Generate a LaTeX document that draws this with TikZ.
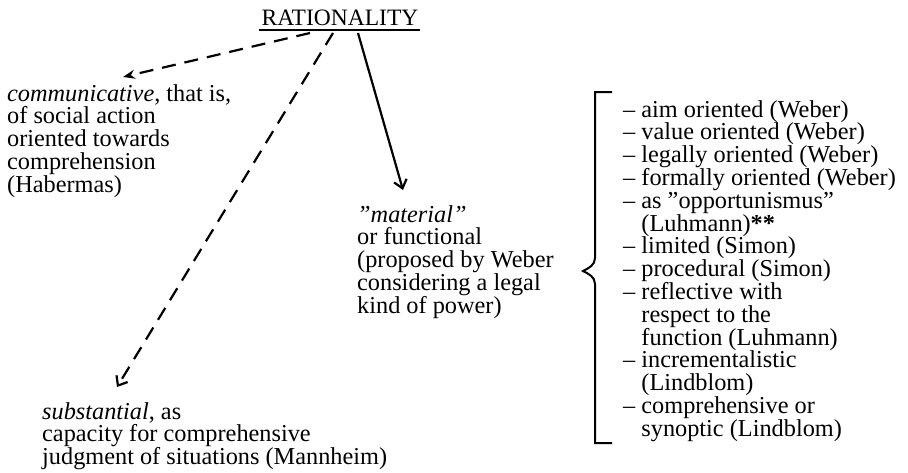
\documentclass[tikz,border=0pt]{standalone}
\usepackage{fontspec}
\setmainfont{Liberation Serif}
\usetikzlibrary{arrows.meta}
\begin{document}
\begin{tikzpicture}[x=1pt,y=-1pt,
  txt/.style={inner sep=0pt,align=left,anchor=base west,font=\fontsize{24.3}{22.8}\selectfont},
  conn/.style={line width=2.2pt},
  dashconn/.style={conn,dash pattern=on 14pt off 9pt},
  barb/.style={-{Straight Barb[length=8pt,width=13pt,line width=2.2pt]}},
  stealthtip/.style={-{Stealth[length=12pt,width=9pt]}}]
\useasboundingbox (0,0) rectangle (908,472);
% title
\node[inner sep=0pt,anchor=base,font=\fontsize{23.5}{22.8}\selectfont] (rat) at (340,25) {RATIONALITY};
\draw[line width=1.8pt] ([xshift=-2pt,yshift=-5pt]rat.base west) -- ([xshift=1pt,yshift=-5pt]rat.base east);
\coordinate (r1) at (310,33);
\coordinate (r2) at (333,33);
\coordinate (r3) at (358,33);
% blocks (base anchor = baseline of last line)
\node[txt] (comm) at (7,192.2) {\textit{communicative}, that is,\\of social action\\oriented towards\\comprehension\\(Habermas)};
\node[txt] (mat) at (357,313.2) {\textit{"material"}\\or functional\\(proposed by Weber\\considering a legal\\kind of power)};
\node[txt] (subs) at (42,464.6) {\textit{substantial}, as\\capacity for comprehensive\\judgment of situations (Mannheim)};
\node[txt] (list) at (623,436.2) {– aim oriented (Weber)\\– value oriented (Weber)\\– legally oriented (Weber)\\– formally oriented (Weber)\\– as "opportunismus"\\\phantom{– }(Luhmann)\textbf{**}\\– limited (Simon)\\– procedural (Simon)\\– reflective with\\\phantom{– }respect to the\\\phantom{– }function (Luhmann)\\– incrementalistic\\\phantom{– }(Lindblom)\\– comprehensive or\\\phantom{– }synoptic (Lindblom)};
% arrow tips
\coordinate (commtip) at (123,77);
\coordinate (substip) at (117,387);
\coordinate (mattip) at (403,190);
\draw[dashconn,stealthtip] (r1) -- (commtip);
\draw[dashconn,barb] (r2) -- (substip);
\draw[conn,barb] (r3) -- (mattip);
% bracket with brace point
\draw[line width=2pt] (612,92) -- (595,92) -- (595,258)
  .. controls (595,265) and (589,268) .. (583,271)
  .. controls (589,274) and (595,277) .. (595,284)
  -- (595,443) -- (612,443);
\end{tikzpicture}
\end{document}
